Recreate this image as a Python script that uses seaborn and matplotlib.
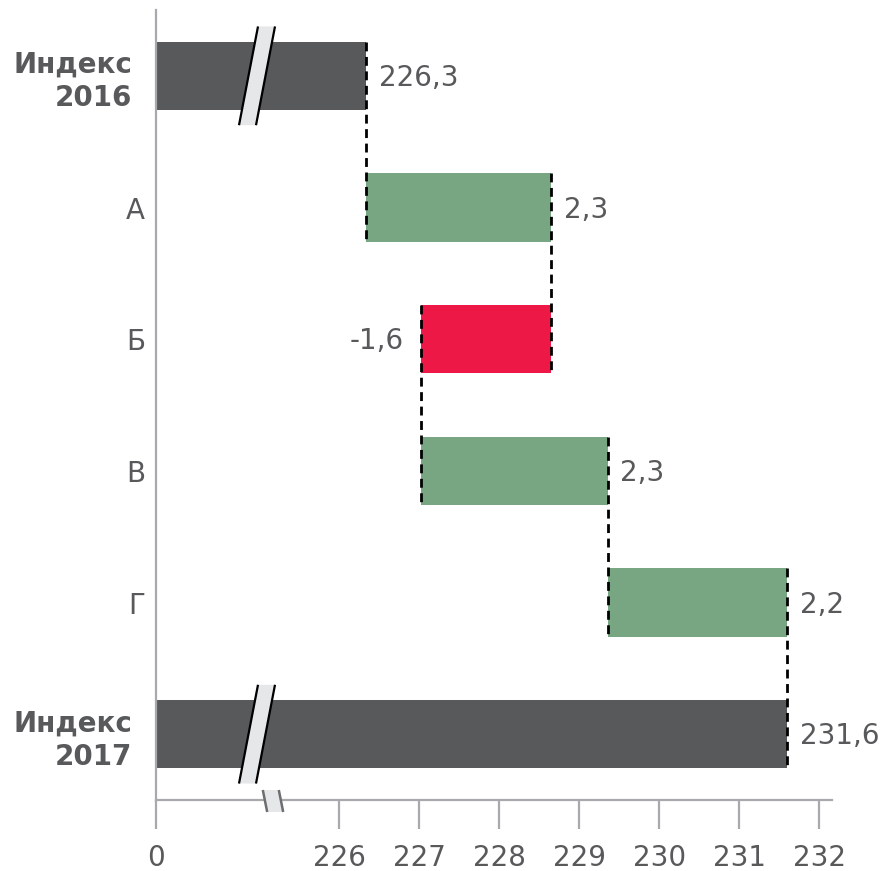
import numpy as np
import pandas as pd
import matplotlib
matplotlib.use("Agg")
import matplotlib.pyplot as plt
from matplotlib.patches import Polygon
from matplotlib.transforms import blended_transform_factory
import seaborn as sns

# ---- data ----
categories = ["Индекс\n2016", "А", "Б", "В", "Г", "Индекс\n2017"]
index_2016 = 226.34
changes = [2.31, -1.62, 2.33, 2.24]
tick_values = [0, 226, 227, 228, 229, 230, 231, 232]
tick_labels = ["0", "226", "227", "228", "229", "230", "231", "232"]

# ---- derived waterfall geometry ----
cum = np.concatenate([[index_2016], index_2016 + np.cumsum(changes)])
index_2017 = cum[-1]
lefts = [0.0] + list(cum[:-1]) + [0.0]
widths = [index_2016] + changes + [index_2017]
ends = [l + w for l, w in zip(lefts, widths)]
values = [index_2016] + changes + [index_2017]

DARK = "#58595b"
GREEN = "#78a582"
RED = "#ee1846"
AXIS = "#a7a9ac"
TEXT = "#58595b"
colors = [DARK] + [GREEN if c > 0 else RED for c in changes] + [DARK]

df = pd.DataFrame({"cat": categories, "width": widths})

sns.set_theme(style="white")
plt.rcParams["font.family"] = ["DejaVu Sans"]

fig = plt.figure(figsize=(8.93, 8.71), dpi=100)
ax = fig.add_axes([156 / 893, 1 - 800 / 871, 676 / 893, 790 / 871])

BAR_H = 0.52
sns.barplot(data=df, x="width", y="cat", orient="y", left=lefts, color=DARK,
            saturation=1, errorbar=None, width=BAR_H, ax=ax)
for p, c in zip(ax.patches, colors):
    p.set_facecolor(c)
    p.set_edgecolor("none")

# broken axis: compress 0..226 into a short stretch
SHOW = 2.2875
def fwd(x):
    x = np.asarray(x, dtype=float)
    return np.where(x < 226, 226 - SHOW + x * SHOW / 226, x)
def inv(y):
    y = np.asarray(y, dtype=float)
    return np.where(y < 226, (y - (226 - SHOW)) * 226 / SHOW, y)

ax.set_xscale("function", functions=(fwd, inv))
ax.set_xlim(0, 232.16)
ax.set_ylim(5.5, -0.5)

# dashed connectors
for i in range(len(categories) - 1):
    x = ends[i]
    ax.plot([x, x], [i - BAR_H / 2, i + 1 + BAR_H / 2], color="black",
            lw=2.0, dashes=(3.2, 2.0), solid_capstyle="butt", zorder=3)

# value labels
for i, (v, e) in enumerate(zip(values, ends)):
    txt = f"{v:.1f}".replace(".", ",")
    if v < 0:
        ax.annotate(txt, (lefts[i] + widths[i], i), xytext=(-13, -1),
                    textcoords="offset points", ha="right", va="center",
                    fontsize=20, color=TEXT)
    else:
        ax.annotate(txt, (e, i), xytext=(9, -1.5), textcoords="offset points",
                    ha="left", va="center", fontsize=20, color=TEXT)

# axis styling
for s in ["top", "right"]:
    ax.spines[s].set_visible(False)
for s in ["left", "bottom"]:
    ax.spines[s].set_color(AXIS)
    ax.spines[s].set_linewidth(1.6)
ax.set_xlabel("")
ax.set_ylabel("")
ax.set_xticks(tick_values)
ax.set_xticklabels(tick_labels, fontsize=20, color=TEXT)
ax.tick_params(axis="x", direction="out", length=21, width=1.6, color=AXIS,
               pad=11, bottom=True)
ax.set_yticks(range(len(categories)))
ax.set_yticklabels(categories, fontsize=20, color=TEXT, linespacing=1.25)
ax.tick_params(axis="y", length=0)
for i, (t, lab) in enumerate(zip(ax.yaxis.get_major_ticks(), ax.get_yticklabels())):
    if "Индекс" in categories[i]:
        lab.set_fontweight("bold")
        t.set_pad(17)
    else:
        t.set_pad(8)

# break markers on the index bars
trans = ax.get_yaxis_transform()  # x in axes fraction, y in data
def break_mark(xc, yc, half_h, gap, slant, face, edge, lw, tr):
    x0l, x0r = xc - gap / 2 + slant, xc + gap / 2 + slant
    x1l, x1r = xc - gap / 2 - slant, xc + gap / 2 - slant
    poly = Polygon([(x0l, yc - half_h), (x0r, yc - half_h), (x1r, yc + half_h), (x1l, yc + half_h)],
                   closed=True, facecolor=face, edgecolor="none", transform=tr,
                   zorder=6, clip_on=False)
    ax.add_patch(poly)
    ax.plot([x0l, x1l], [yc - half_h, yc + half_h], color=edge, lw=lw, transform=tr,
            zorder=7, clip_on=False, solid_capstyle="butt")
    ax.plot([x0r, x1r], [yc - half_h, yc + half_h], color=edge, lw=lw, transform=tr,
            zorder=7, clip_on=False, solid_capstyle="butt")

for i in [0, len(categories) - 1]:
    break_mark((257 - 156) / 676, i, 0.375, 17 / 676, 9.5 / 676, "#e6e7e8", "black", 1.6, trans)

# break marker on the x axis
axis_tr = blended_transform_factory(ax.transAxes, ax.transAxes)
break_mark((273 - 156) / 676, -1 / 790, 11 / 790, 16 / 676, 2.2 / 676, "#e6e7e8", "#6d6e71", 1.8, axis_tr)

fig.savefig("out.png", dpi=100)
